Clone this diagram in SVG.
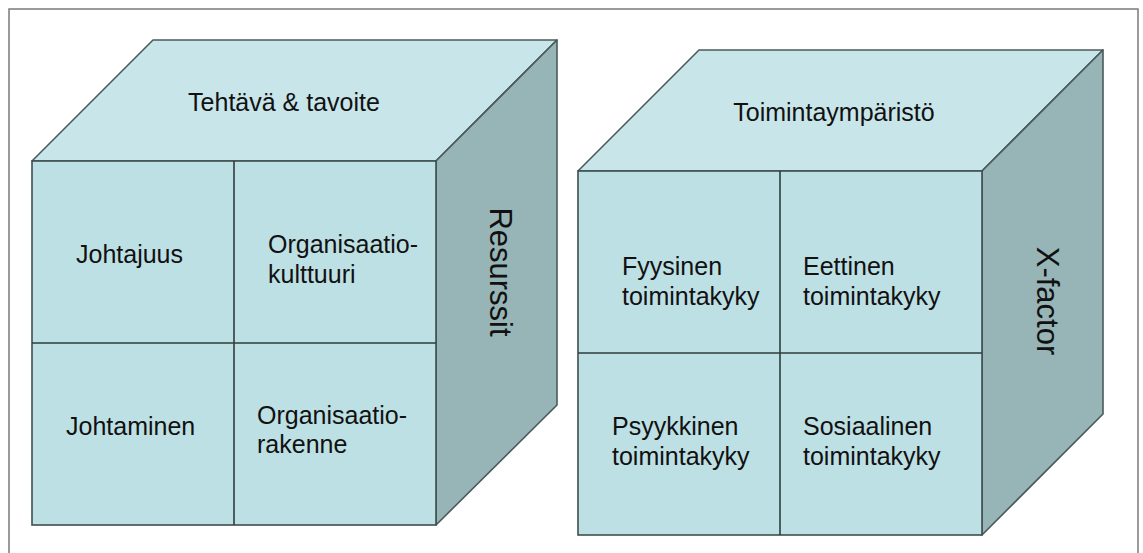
<svg xmlns="http://www.w3.org/2000/svg" width="1143" height="553" viewBox="0 0 1143 553">
  <style>
    .frame { fill: #ffffff; stroke: #7a7a7a; stroke-width: 1.5; }
    .front { fill: #bde0e4; stroke: #3f4f50; stroke-width: 1.6; }
    .top { fill: #c8e5ea; stroke: #4a5a5b; stroke-width: 1.6; stroke-linejoin: round; }
    .side { fill: #97b5b6; stroke: #4a5a5b; stroke-width: 1.6; stroke-linejoin: round; }
    .div { stroke: #2f3c3d; stroke-width: 1.6; fill: none; }
    text { font-family: "Liberation Sans", Arial, sans-serif; fill: #111; }
    .lbl { font-size: 25px; }
    .big { font-size: 31px; }
  </style>

  <rect class="frame" x="9" y="9" width="1129" height="560"/>

  <!-- Cube 1: organisation -->
  <g id="cube-organisation">
    <polygon class="top" points="32,161 153,40 557,40 436,161"/>
    <polygon class="side" points="436,161 557,40 557,405 436,525"/>
    <rect class="front" x="32" y="161" width="404" height="364"/>
    <line class="div" x1="234" y1="161" x2="234" y2="525"/>
    <line class="div" x1="32" y1="343" x2="436" y2="343"/>
    <text class="lbl" x="284" y="111" text-anchor="middle">Tehtävä &amp; tavoite</text>
    <text class="lbl" x="76" y="263">Johtajuus</text>
    <text class="lbl" x="268" y="253">Organisaatio-</text>
    <text class="lbl" x="268" y="283">kulttuuri</text>
    <text class="lbl" x="66" y="435">Johtaminen</text>
    <text class="lbl" x="257" y="424">Organisaatio-</text>
    <text class="lbl" x="257" y="453">rakenne</text>
    <text class="big" transform="translate(490,272) rotate(90)" text-anchor="middle">Resurssit</text>
  </g>

  <!-- Cube 2: functional capacity -->
  <g id="cube-capacity">
    <polygon class="top" points="578,171 699,50 1103,50 982,171"/>
    <polygon class="side" points="982,171 1103,50 1103,414 982,535"/>
    <rect class="front" x="578" y="171" width="404" height="364"/>
    <line class="div" x1="780" y1="171" x2="780" y2="535"/>
    <line class="div" x1="578" y1="353" x2="982" y2="353"/>
    <text class="lbl" x="834" y="121" text-anchor="middle">Toimintaympäristö</text>
    <text class="lbl" x="622" y="275">Fyysinen</text>
    <text class="lbl" x="622" y="305">toimintakyky</text>
    <text class="lbl" x="803" y="275">Eettinen</text>
    <text class="lbl" x="803" y="305">toimintakyky</text>
    <text class="lbl" x="612" y="435">Psyykkinen</text>
    <text class="lbl" x="612" y="465">toimintakyky</text>
    <text class="lbl" x="803" y="435">Sosiaalinen</text>
    <text class="lbl" x="803" y="465">toimintakyky</text>
    <text class="big" transform="translate(1037,301) rotate(90)" text-anchor="middle">X-factor</text>
  </g>
</svg>
